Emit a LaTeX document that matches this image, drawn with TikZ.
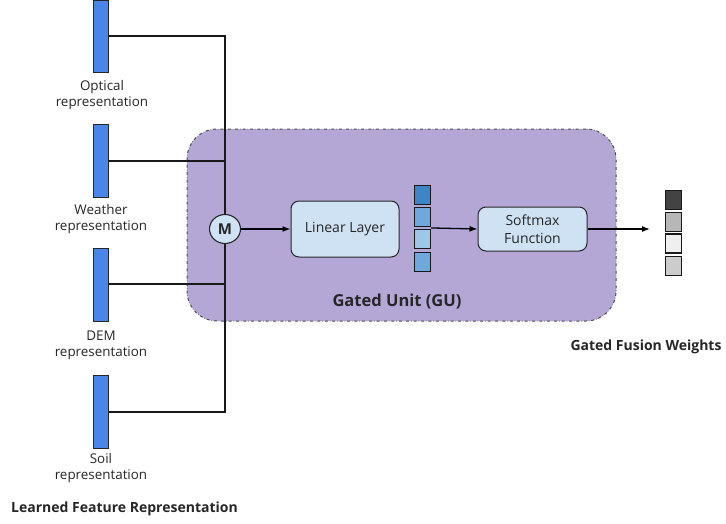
\documentclass[tikz,border=0pt]{standalone}
\usepackage{fontspec}
\setmainfont{Open Sans}
\usetikzlibrary{arrows.meta,calc,shapes.geometric}
\definecolor{barblue}{HTML}{4A86E8}
\definecolor{gufill}{HTML}{B4A7D6}
\definecolor{boxblue}{HTML}{CFE2F3}
\definecolor{cA}{HTML}{3D85C6}
\definecolor{cB}{HTML}{6FA8DC}
\definecolor{cC}{HTML}{9FC5E8}
\definecolor{gA}{HTML}{434343}
\definecolor{gB}{HTML}{B7B7B7}
\definecolor{gC}{HTML}{EFEFEF}
\definecolor{gD}{HTML}{CCCCCC}
\tikzset{
  bar/.style={draw=black!85, line width=1pt, fill=barblue, minimum width=15pt, minimum height=73pt, inner sep=0pt, anchor=north},
  lbl/.style={align=center, font=\fontsize{13.4}{16.5}\selectfont, text=black!85},
  blbl/.style={font=\bfseries\fontsize{14}{16}\selectfont, text=black!85},
  wire/.style={line width=1.4pt, black!90},
  arr/.style={line width=1.3pt, -{Latex[length=8pt,width=6pt]}},
  procbox/.style={draw=black!85, line width=1pt, fill=boxblue, rounded corners=8pt, align=center, inner sep=0pt, font=\fontsize{14}{18}\selectfont, text=black!85},
  cell/.style={draw=black!90, line width=1.1pt, minimum width=16pt, minimum height=19pt, inner sep=0pt},
}
\begin{document}
\begin{tikzpicture}[x=1pt,y=-1pt]
\useasboundingbox (0,0) rectangle (726,523);
% Gated unit background
\node[draw=black!70, dash dot, line width=1pt, fill=gufill, rounded corners=30pt, minimum width=429pt, minimum height=192pt, inner sep=0pt] (gu) at (401.5,225) {};
\node[font=\bfseries\fontsize{16.5}{18}\selectfont, text=black!85] (gulbl) at (397,302) {Gated Unit (GU)};
% bars
\node[bar, minimum height=72pt] (optical) at (100.5,0) {};
\node[bar] (weather) at (100.5,124) {};
\node[bar] (dem) at (100.5,248) {};
\node[bar] (soil) at (100.5,375) {};
\node[lbl] (optlbl) at (102,95) {Optical\\representation};
\node[lbl] (weatherlbl) at (101,219) {Weather\\representation};
\node[lbl] (demlbl) at (101,345.5) {DEM\\representation};
\node[lbl] (soillbl) at (101,468) {Soil\\representation};
\node[blbl] (lfr) at (124.5,509) {Learned Feature Representation};
% merge
\coordinate (top) at (225,36);
\coordinate (bot) at (225,412);
\draw[wire] (optical.east |- top) -- (top) -- (bot) -- (soil.east |- bot);
\draw[wire] (weather.east |- 0,161) -- (225,161);
\draw[wire] (dem.east |- 0,284) -- (225,284);
\node[draw=black!85, line width=1.1pt, fill=boxblue, ellipse, minimum width=31pt, minimum height=29pt, inner sep=0pt, font=\bfseries\fontsize{15}{16}\selectfont, text=black!85] (m) at (225,229) {M};
% linear layer
\node[procbox, minimum width=108pt, minimum height=56pt] (lin) at (345,229) {Linear Layer};
\draw[arr] (m.east) -- (lin.west);
% vector
\node[cell, fill=cA] (v1) at (422.5,195) {};
\node[cell, fill=cB] (v2) at (422.5,217) {};
\node[cell, fill=cC] (v3) at (422.5,239) {};
\node[cell, fill=cB] (v4) at (422.5,262) {};
% softmax
\node[procbox, minimum width=109pt, minimum height=44pt] (soft) at (532.5,229) {Softmax\\Function};
\draw[arr] (v3.north east) ++(0,-1) -- (soft.west);
% output
\coordinate (outend) at (650,229);
\draw[arr] (soft.east) -- (outend);
\node[cell, fill=gA] (w1) at (673.5,200) {};
\node[cell, fill=gB] (w2) at (673.5,222) {};
\node[cell, fill=gC] (w3) at (673.5,243.5) {};
\node[cell, fill=gD] (w4) at (673.5,266) {};
\node[blbl] (gfw) at (646,347) {Gated Fusion Weights};
\end{tikzpicture}
\end{document}
